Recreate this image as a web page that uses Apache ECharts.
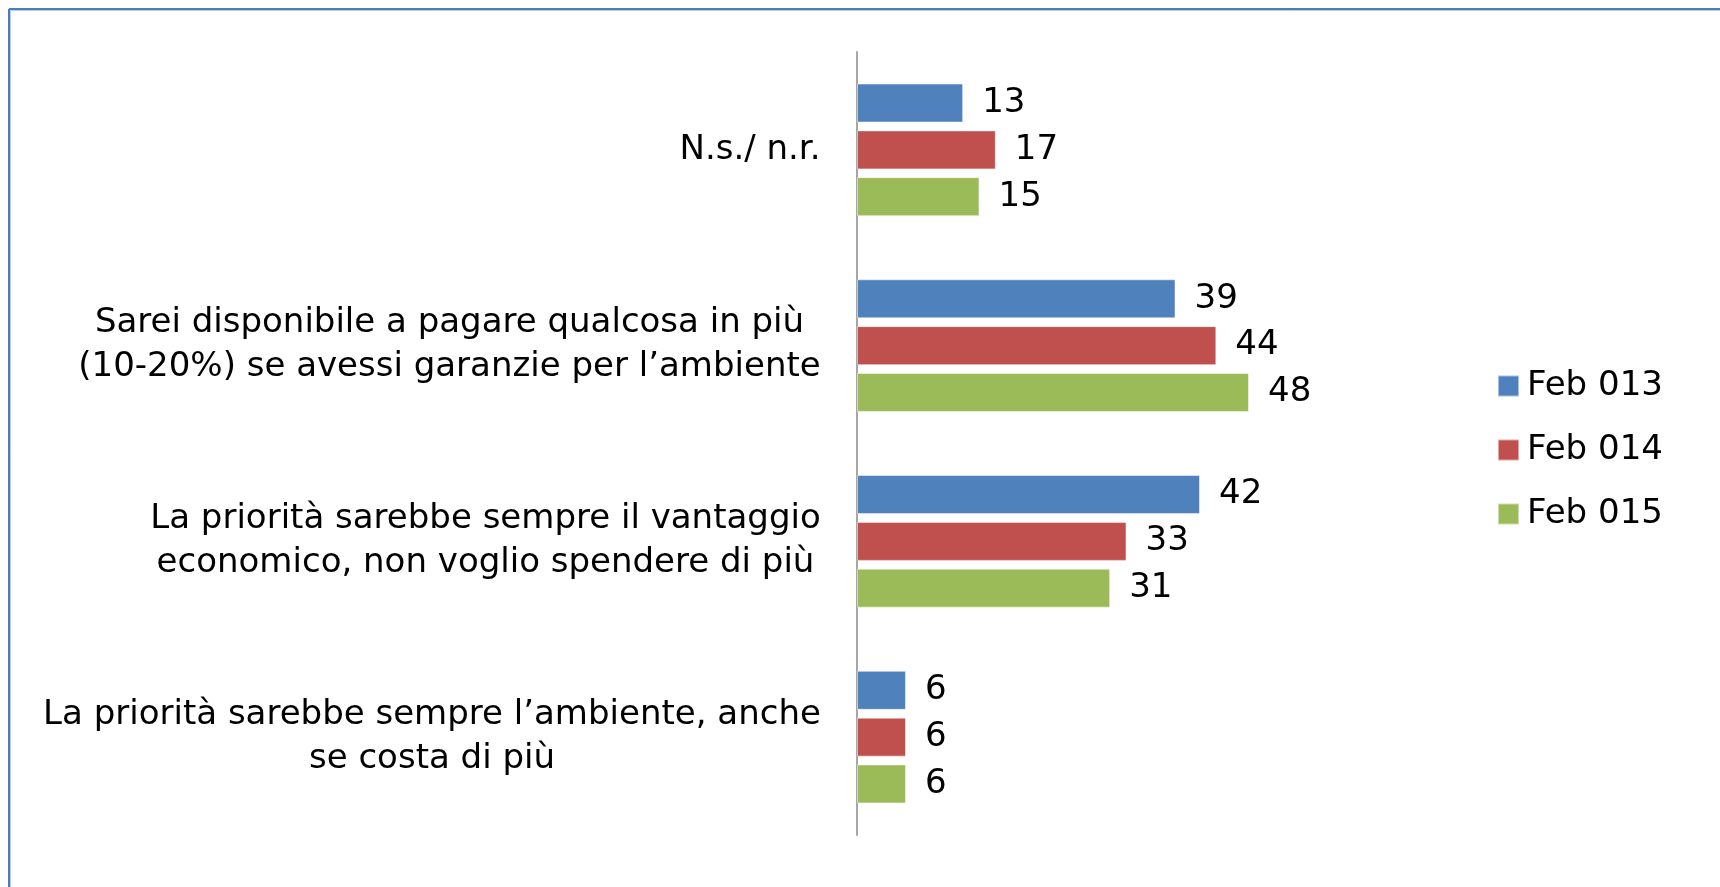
<!DOCTYPE html>
<html>
<head>
<meta charset="utf-8">
<script src="https://cdn.jsdelivr.net/npm/echarts@6/dist/echarts.min.js"></script>
<style>
  html, body { margin: 0; padding: 0; background: #fff; }
  #chart { width: 1720px; height: 887px; }
</style>
</head>
<body>
<div id="chart"></div>
<script>
// categories, top to bottom
const categories = [
  "N.s./ n.r.",
  "Sarei disponibile a pagare qualcosa in più\n(10-20%) se avessi garanzie per l’ambiente",
  "La priorità sarebbe sempre il vantaggio\neconomico, non voglio spendere di più",
  "La priorità sarebbe sempre l’ambiente, anche\nse costa di più"
];
const seriesNames = ["Feb 013", "Feb 014", "Feb 015"];
const feb013 = [13, 39, 42, 6];
const feb014 = [17, 44, 33, 6];
const feb015 = [15, 48, 31, 6];
const colors = ["#4f81bd", "#c0504d", "#9bbb59"];

const FONT = "DejaVu Sans";
const FS = 34;

// misura la riga più lunga per centrare le righe di ogni etichetta
const ctx = document.createElement("canvas").getContext("2d");
ctx.font = FS + "px " + FONT;
const rich = {};
categories.forEach((c, i) => {
  const w = Math.max(...c.split("\n").map(l => ctx.measureText(l).width));
  rich["c" + i] = { width: Math.ceil(w), align: "center", fontSize: FS, fontFamily: FONT, color: "#000", lineHeight: 44 };
});

const chart = echarts.init(document.getElementById("chart"));

const mkSeries = (name, data, i) => ({
  name: name,
  type: "bar",
  data: data,
  barWidth: 39,
  barGap: "20%",
  itemStyle: { color: colors[i], borderColor: "rgba(255,255,255,0.5)", borderWidth: 1 },
  label: {
    show: true,
    position: "right",
    distance: 19,
    fontSize: FS,
    fontFamily: FONT,
    color: "#000"
  }
});

chart.setOption({
  animation: false,
  graphic: [
    { type: "line", shape: { x1: 9, y1: 9, x2: 1720, y2: 9 }, style: { stroke: "#4a7ebb", lineWidth: 2 } },
    { type: "line", shape: { x1: 9, y1: 9, x2: 9, y2: 887 }, style: { stroke: "#4a7ebb", lineWidth: 2 } },
    { type: "line", shape: { x1: 10, y1: 10.5, x2: 1720, y2: 10.5 }, style: { stroke: "#b9cde5", lineWidth: 1 } },
    { type: "line", shape: { x1: 10.5, y1: 10, x2: 10.5, y2: 887 }, style: { stroke: "#b9cde5", lineWidth: 1 } }
  ],
  legend: {
    orient: "vertical",
    left: 1492,
    top: 364,
    itemWidth: 21,
    itemHeight: 21,
    itemGap: 30,
    icon: "rect",
    textStyle: { fontSize: FS, fontFamily: FONT, color: "#000", padding: [0, 0, 0, 3] },
    data: seriesNames
  },
  grid: { left: 857, top: 52, bottom: 52, right: 373 },
  xAxis: {
    type: "value",
    min: 0,
    max: 60,
    show: false
  },
  yAxis: {
    type: "category",
    inverse: true,
    data: categories,
    axisLine: { lineStyle: { color: "#a6a6a6", width: 2 } },
    axisTick: { show: false },
    axisLabel: {
      margin: 36,
      formatter: (v, i) => v.split("\n").map(l => "{c" + i + "|" + l + "}").join("\n"),
      rich: rich
    }
  },
  series: [
    mkSeries(seriesNames[0], feb013, 0),
    mkSeries(seriesNames[1], feb014, 1),
    mkSeries(seriesNames[2], feb015, 2)
  ]
});
</script>
</body>
</html>
